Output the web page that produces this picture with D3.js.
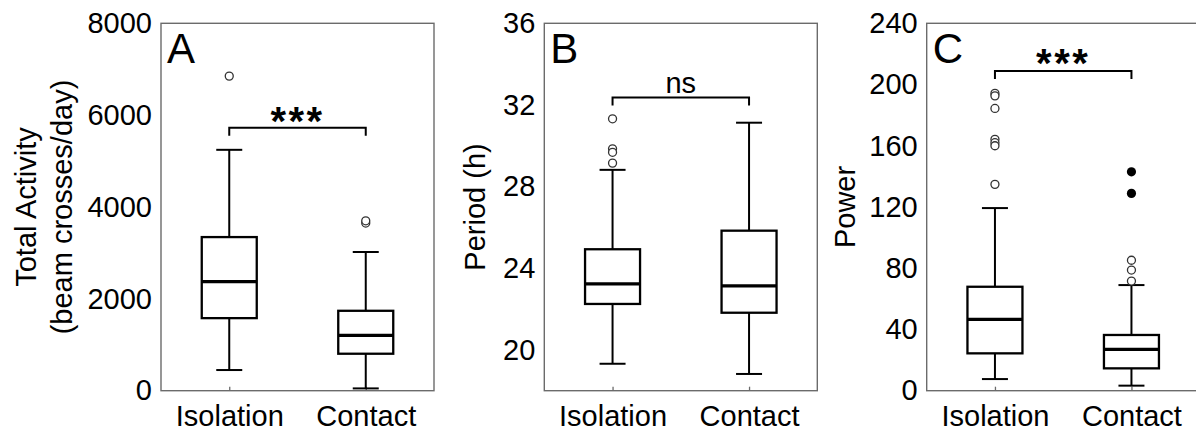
<!DOCTYPE html>
<html>
<head>
<meta charset="utf-8">
<script src="https://cdn.jsdelivr.net/npm/d3@7"></script>
<style>
  html, body { margin: 0; padding: 0; background: #fff; }
  svg { display: block; font-family: "Liberation Sans", Arial, sans-serif; }
</style>
</head>
<body>
<svg id="chart" width="1196" height="432"></svg>
<script>
// Groups compared in every panel
const groups = ["Isolation", "Contact"];

// Box statistics per group: [lower whisker, Q1, median, Q3, upper whisker]
const activityStats = [[450, 1580, 2375, 3345, 5245], [50, 805, 1205, 1740, 3020]];
const periodStats   = [[19.32, 22.25, 23.23, 24.93, 28.82], [18.82, 21.82, 23.14, 25.84, 31.13]];
const powerStats    = [[7.6, 24.4, 46.6, 67.9, 119.3], [3.3, 14.6, 27.0, 36.4, 69.0]];

// Outliers per group (open circles)
const activityOutliers = [[6850], [3650, 3700]];
const periodOutliers   = [[31.32, 29.85, 29.68, 29.15], []];
const powerOutliers    = [[194.2, 192.6, 184.4, 164.2, 162.0, 160.0, 134.8], [85.2, 78.8, 71.6]];
// Extreme outliers (filled circles)
const powerExtremes    = [[], [143.0, 128.9]];

// Axis domains and tick labels
const activityDomain = [0, 8000];
const periodDomain   = [18, 36];
const powerDomain    = [0, 240];
const activityTicks = [0, 2000, 4000, 6000, 8000];
const periodTicks   = [20, 24, 28, 32, 36];
const powerTicks    = [0, 40, 80, 120, 160, 200, 240];

// Axis titles, panel letters, significance marks and bracket levels
const activityTitle = ["Total Activity", "(beam crosses/day)"];
const periodTitle   = ["Period (h)"];
const powerTitle    = ["Power"];
const panelLetters  = ["A", "B", "C"];
const significance  = ["***", "ns", "***"];
const bracketLevels = [5727, 32.37, 208.8];

const panels = [
  { stats: activityStats, outliers: activityOutliers, extremes: [[], []], domain: activityDomain, ticks: activityTicks, title: activityTitle },
  { stats: periodStats,   outliers: periodOutliers,   extremes: [[], []], domain: periodDomain,   ticks: periodTicks,   title: periodTitle },
  { stats: powerStats,    outliers: powerOutliers,    extremes: powerExtremes, domain: powerDomain, ticks: powerTicks, title: powerTitle }
];

// Layout
const panelLefts = [161, 544.3, 926.7];
const panelW = 273;
const plotTop = 23.3, plotBottom = 390.7;
const titleOffsets = [[-125, -89], [-59], [-72]];
const sigOffsets = [7.5, -4, 5.5];
const fontSize = 29;
const frameColor = "#6b6b6b";

const svg = d3.select("#chart");

panels.forEach((p, i) => {
  const g = svg.append("g").attr("transform", `translate(${panelLefts[i]},0)`);
  const x = d3.scalePoint().domain(groups).range([0, panelW]).padding(0.5);
  const y = d3.scaleLinear().domain(p.domain).range([plotBottom, plotTop]);

  // frame
  g.append("rect")
    .attr("x", 0).attr("y", plotTop)
    .attr("width", panelW).attr("height", plotBottom - plotTop)
    .attr("fill", "none").attr("stroke", frameColor).attr("stroke-width", 1.4);

  // y axis
  const ya = g.append("g").call(d3.axisLeft(y).tickValues(p.ticks).tickSize(0).tickPadding(9).tickFormat(d3.format("d")));
  ya.select(".domain").remove();
  ya.selectAll("text").attr("font-size", fontSize).attr("fill", "#000")
    .attr("font-family", "'Liberation Sans', Arial, sans-serif");

  // x axis
  const xa = g.append("g").attr("transform", `translate(0,${plotBottom})`)
    .call(d3.axisBottom(x).tickSize(-4));
  xa.select(".domain").remove();
  xa.selectAll("line").attr("stroke", frameColor).attr("stroke-width", 1.3);
  xa.selectAll("text").attr("font-size", fontSize).attr("fill", "#000")
    .attr("font-family", "'Liberation Sans', Arial, sans-serif")
    .attr("y", 35).attr("dy", 0);

  // y axis title
  const midY = (plotTop + plotBottom) / 2;
  p.title.forEach((t, k) => {
    g.append("text")
      .attr("transform", `translate(${titleOffsets[i][k]},${midY}) rotate(-90)`)
      .attr("text-anchor", "middle")
      .attr("font-size", fontSize)
      .text(t);
  });

  // panel letter
  g.append("text").attr("x", 6).attr("y", 63).attr("font-size", 42).text(panelLetters[i]);

  const boxHalf = 27.5, capHalf = 13;
  groups.forEach((grp, j) => {
    const cx = x(grp);
    const [lo, q1, med, q3, hi] = p.stats[j];
    const bg = g.append("g");
    // whiskers
    bg.append("line").attr("x1", cx).attr("x2", cx).attr("y1", y(q3)).attr("y2", y(hi))
      .attr("stroke", "#000").attr("stroke-width", 2);
    bg.append("line").attr("x1", cx).attr("x2", cx).attr("y1", y(q1)).attr("y2", y(lo))
      .attr("stroke", "#000").attr("stroke-width", 2);
    [lo, hi].forEach(v => {
      bg.append("line").attr("x1", cx - capHalf).attr("x2", cx + capHalf).attr("y1", y(v)).attr("y2", y(v))
        .attr("stroke", "#000").attr("stroke-width", 2);
    });
    // box
    bg.append("rect").attr("x", cx - boxHalf).attr("width", boxHalf * 2)
      .attr("y", y(q3)).attr("height", y(q1) - y(q3))
      .attr("fill", "#fff").attr("stroke", "#000").attr("stroke-width", 2.3);
    // median
    bg.append("line").attr("x1", cx - boxHalf).attr("x2", cx + boxHalf).attr("y1", y(med)).attr("y2", y(med))
      .attr("stroke", "#000").attr("stroke-width", 3.2);
    // outliers
    bg.selectAll("circle.out").data(p.outliers[j]).join("circle")
      .attr("class", "out").attr("cx", cx).attr("cy", d => y(d)).attr("r", 4)
      .attr("fill", "#fff").attr("stroke", "#333").attr("stroke-width", 1.3);
    bg.selectAll("circle.ext").data(p.extremes[j]).join("circle")
      .attr("class", "ext").attr("cx", cx).attr("cy", d => y(d)).attr("r", 4.6)
      .attr("fill", "#000");
  });

  // significance bracket
  const by = y(bracketLevels[i]);
  const x1 = x(groups[0]), x2 = x(groups[1]);
  g.append("path")
    .attr("d", `M${x1},${by + 8}V${by}H${x2}V${by + 8}`)
    .attr("fill", "none").attr("stroke", "#000").attr("stroke-width", 2);
  const sig = significance[i];
  const stars = sig !== "ns";
  g.append("text")
    .attr("x", (x1 + x2) / 2).attr("y", by + sigOffsets[i])
    .attr("text-anchor", "middle")
    .attr("font-size", stars ? 40 : fontSize)
    .attr("font-weight", stars ? "bold" : "normal")
    .attr("letter-spacing", stars ? 2.5 : 0)
    .text(sig);
});
</script>
</body>
</html>
